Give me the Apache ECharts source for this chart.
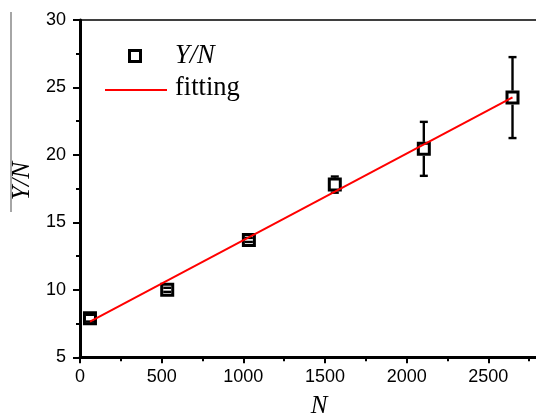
<!DOCTYPE html>
<html>
<head>
<meta charset="utf-8">
<script src="https://cdn.jsdelivr.net/npm/echarts@6/dist/echarts.min.js"></script>
<style>
  html, body { margin: 0; padding: 0; background: #fff; }
  #chart { width: 536px; height: 416px; }
</style>
</head>
<body>
<div id="chart"></div>
<script>
// Measured Y/N ratio against N, with standard deviations
const nValues  = [61, 534, 1034, 1560, 2105, 2648];
const ynValues = [7.9, 10.0, 13.7, 17.8, 20.45, 24.25];
const ynErrors = [0.25, 0.15, 0.15, 0.6, 2.0, 3.0];

// Linear fit endpoints
const fitN  = [61, 2648];
const fitYN = [7.64, 24.26];

// Axis ranges and tick steps
const xRange = [0, 3000];
const xStep = 500;
const yRange = [5, 30];
const yStep = 5;

const serif = '"Liberation Serif", "Times New Roman", serif';
const sans = '"Liberation Sans", Arial, sans-serif';

const chart = echarts.init(document.getElementById('chart'), null, { renderer: 'canvas' });

const pointData = nValues.map((n, i) => [n, ynValues[i]]);
const errData = nValues.map((n, i) => [n, ynValues[i], ynErrors[i]]);
const fitData = fitN.map((n, i) => [n, fitYN[i]]);

const HALF_MARKER = 7;
const CAP_HALF = 4;

function renderErrorBar(params, api) {
  const x = api.value(0), y = api.value(1), e = api.value(2);
  const c = api.coord([x, y]);
  const hi = api.coord([x, y + e])[1];
  const lo = api.coord([x, y - e])[1];
  const style = { stroke: '#000', lineWidth: 2.4 };
  const kids = [];
  if (c[1] - hi > HALF_MARKER) {
    kids.push({ type: 'line', shape: { x1: c[0], y1: hi, x2: c[0], y2: c[1] - HALF_MARKER }, style });
  }
  if (lo - c[1] > HALF_MARKER) {
    kids.push({ type: 'line', shape: { x1: c[0], y1: c[1] + HALF_MARKER, x2: c[0], y2: lo }, style });
  }
  kids.push({ type: 'line', shape: { x1: c[0] - CAP_HALF, y1: hi, x2: c[0] + CAP_HALF, y2: hi }, style });
  kids.push({ type: 'line', shape: { x1: c[0] - CAP_HALF, y1: lo, x2: c[0] + CAP_HALF, y2: lo }, style });
  return { type: 'group', children: kids };
}

chart.setOption({
  animation: false,
  backgroundColor: '#fff',
  grid: {
    left: 80, right: -34, top: 20, bottom: 58.7,
    outerBoundsMode: 'none', containLabel: false,
    show: true, borderColor: '#000', borderWidth: 1.5, backgroundColor: 'transparent'
  },
  xAxis: {
    type: 'value',
    min: xRange[0], max: xRange[1], interval: xStep,
    splitLine: { show: false },
    axisLine: { onZero: false, lineStyle: { color: '#000', width: 3 } },
    axisTick: { length: 6, lineStyle: { width: 2, color: '#000' } },
    minorTick: { show: true, splitNumber: 2, length: 4, lineStyle: { width: 2, color: '#000' } },
    axisLabel: { margin: 11, fontFamily: sans, fontSize: 18, color: '#000', showMaxLabel: false, formatter: v => String(v) }
  },
  yAxis: {
    type: 'value',
    min: yRange[0], max: yRange[1], interval: yStep,
    splitLine: { show: false },
    axisLine: { onZero: false, lineStyle: { color: '#000', width: 3 } },
    axisTick: { length: 7, lineStyle: { width: 2, color: '#000' } },
    minorTick: { show: true, splitNumber: 2, length: 4, lineStyle: { width: 2, color: '#000' } },
    axisLabel: { margin: 14, fontFamily: sans, fontSize: 18, color: '#000', formatter: v => String(v) }
  },
  graphic: [
    // y-axis title with its bar
    { type: 'line', shape: { x1: 11, y1: 12, x2: 11, y2: 212 }, style: { stroke: '#888', lineWidth: 1.5 } },
    {
      type: 'text', x: 22, y: 181, rotation: Math.PI / 2,
      style: { text: 'Y/N', font: 'italic 25.5px ' + serif, fill: '#000', align: 'center', verticalAlign: 'middle' }
    },
    // x-axis title
    {
      type: 'text', x: 319, y: 406,
      style: { text: 'N', font: 'italic 25px ' + serif, fill: '#000', align: 'center', verticalAlign: 'middle' }
    },
    // key
    { type: 'rect', shape: { x: 129.5, y: 50.5, width: 11, height: 11 }, style: { fill: '#fff', stroke: '#000', lineWidth: 3 } },
    {
      type: 'text', x: 175, y: 56,
      style: { text: 'Y/N', font: 'italic 26.5px ' + serif, fill: '#000', align: 'left', verticalAlign: 'middle' }
    },
    { type: 'line', shape: { x1: 105, y1: 90, x2: 167, y2: 90 }, style: { stroke: '#ff0000', lineWidth: 2 } },
    {
      type: 'text', x: 175, y: 88,
      style: { text: 'fitting', font: '26.5px ' + serif, fill: '#000', align: 'left', verticalAlign: 'middle' }
    }
  ],
  series: [
    {
      name: 'Y/N', type: 'scatter', data: pointData, z: 2,
      symbol: 'rect', symbolSize: 11,
      itemStyle: { color: '#fff', borderColor: '#000', borderWidth: 3, opacity: 1 }
    },
    {
      name: 'errors', type: 'custom', data: errData, z: 3,
      renderItem: renderErrorBar, silent: true
    },
    {
      name: 'fitting', type: 'line', data: fitData, z: 4,
      symbol: 'none', lineStyle: { color: '#ff0000', width: 2 }, itemStyle: { color: '#ff0000' }
    }
  ]
});
</script>
</body>
</html>
